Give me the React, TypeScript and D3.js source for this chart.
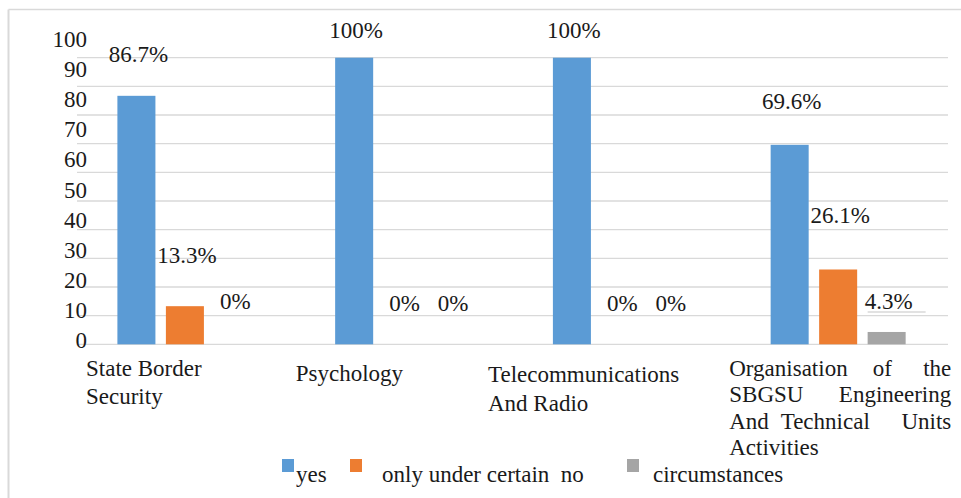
import React from "react";
import * as d3 from "d3";

const categories = [
  "State Border Security",
  "Psychology",
  "Telecommunications And Radio",
  "Organisation of the SBGSU Engineering And Technical Units Activities",
];
const categoryLines = [
  ["State Border", "Security"],
  ["Psychology"],
  ["Telecommunications", "And Radio"],
  ["Organisation of the", "SBGSU Engineering", "And Technical Units", "Activities"],
];
const seriesKeys = ["yes", "only under certain circumstances", "no"];
const yesValues = [86.7, 100, 100, 69.6];
const conditionalValues = [13.3, 0, 0, 26.1];
const noValues = [0, 0, 0, 4.3];
const valueLabels = [
  ["86.7%", "13.3%", "0%"],
  ["100%", "0%", "0%"],
  ["100%", "0%", "0%"],
  ["69.6%", "26.1%", "4.3%"],
];
const yTicks = [0, 10, 20, 30, 40, 50, 60, 70, 80, 90, 100];
const legendLabels = ["yes", "only under certain  no", "circumstances"];

// layout / style
const W = 961;
const H = 498;
const colors = ["#5b9bd5", "#ed7d31", "#a5a5a5"];
const FS = 23;
const TEXT = "#1a1a1a";
const GRID = "#d9d9d9";
const TS = {
  fontFamily: '"Liberation Serif"',
  fontSize: FS,
};
const labelNudge = [
  [2, -7, 1],
  [16, 3, 3],
  [16, 3, 3],
  [0, -10, 13],
];
const catDx = [9, 1, -24.5, -1];
const catBase = [376, 380.7, 381.7, 376];
const catGap = [27.5, 27, 29, 26.3];
const justifyWidth = 222;
const middleWordCenter = [153, 0, 96, 0];

function JustifiedLines({ x, y0, gap, lines, width }) {
  return (
    <g>
      {lines.map((ln, li) => {
        const words = ln.split(" ");
        const yy = y0 + li * gap;
        if (li === lines.length - 1 || words.length < 2) {
          return (
            <text key={li} x={x} y={yy} style={TS} fill={TEXT}>
              {ln}
            </text>
          );
        }
        return (
          <g key={li}>
            {words.map((w, wi) => {
              const anchor =
                wi === 0 ? "start" : wi === words.length - 1 ? "end" : "middle";
              const wx =
                wi === 0 ? x : wi === words.length - 1 ? x + width : x + middleWordCenter[li];
              return (
                <text key={wi} x={wx} y={yy} textAnchor={anchor} style={TS} fill={TEXT}>
                  {w}
                </text>
              );
            })}
          </g>
        );
      })}
    </g>
  );
}

export default function App() {
  const x0 = d3.scaleBand().domain(categories).range([77, 948]);
  const x1 = d3
    .scaleBand()
    .domain(seriesKeys)
    .range([40.4, 175.4])
    .paddingInner(0.216);
  const y = d3.scaleLinear().domain([0, 100]).range([344.3, 57.7]);
  const yLab = d3.scaleLinear().domain([0, 100]).range([348, 47]);
  const seriesValues = [yesValues, conditionalValues, noValues];

  return (
    <svg
      width={W}
      height={H}
      style={{ position: "absolute", left: 0, top: 0, background: "#fff" }}
    >
      <rect x={0} y={0} width={W} height={H} fill="#fff" />
      <line x1={8.5} x2={W} y1={9.5} y2={9.5} stroke={GRID} strokeWidth={1.5} />
      <line x1={8.5} x2={8.5} y1={9.5} y2={H} stroke={GRID} strokeWidth={2} />

      {yTicks.map((t) => (
        <line
          key={"g" + t}
          x1={77}
          x2={948}
          y1={y(t)}
          y2={y(t)}
          stroke={GRID}
          strokeWidth={1.3}
        />
      ))}
      {yTicks.map((t) => (
        <text key={"t" + t} x={87} y={yLab(t)} textAnchor="end" style={TS} fill={TEXT}>
          {t}
        </text>
      ))}

      {categories.map((c, i) =>
        seriesKeys.map((k, j) => {
          const v = seriesValues[j][i];
          return (
            <rect
              key={c + k}
              x={(x0(c) as number) + (x1(k) as number)}
              y={y(v)}
              width={x1.bandwidth()}
              height={y(0) - y(v)}
              fill={colors[j]}
            />
          );
        })
      )}

      {categories.map((c, i) =>
        seriesKeys.map((k, j) => {
          const v = seriesValues[j][i];
          const cx = (x0(c) as number) + (x1(k) as number) + x1.bandwidth() / 2 + 2;
          return (
            <text
              key={"v" + c + k}
              x={cx}
              y={y(v) - 36 + labelNudge[i][j]}
              textAnchor="middle"
              style={TS}
              fill={TEXT}
            >
              {valueLabels[i][j]}
            </text>
          );
        })
      )}
      {(() => {
        const c = categories[3];
        const bx = (x0(c) as number) + (x1(seriesKeys[2]) as number);
        const ly = y(noValues[3]) - 36 + labelNudge[3][2] + 3;
        return (
          <line x1={bx} x2={bx + 58} y1={ly} y2={ly} stroke={GRID} strokeWidth={1.3} />
        );
      })()}

      {categories.map((c, i) =>
        i === 3 ? (
          <JustifiedLines
            key={c}
            x={(x0(c) as number) + catDx[i]}
            y0={catBase[i]}
            gap={catGap[i]}
            lines={categoryLines[i]}
            width={justifyWidth}
          />
        ) : (
          <g key={c}>
            {categoryLines[i].map((ln, li) => (
              <text
                key={li}
                x={(x0(c) as number) + catDx[i]}
                y={catBase[i] + li * catGap[i]}
                style={TS}
                fill={TEXT}
              >
                {ln}
              </text>
            ))}
          </g>
        )
      )}

      {legendLabels.map((l, i) => {
        const lx = [282, 350, 627][i];
        const tx = [296, 382, 653][i];
        return (
          <g key={l}>
            <rect x={lx} y={459} width={12} height={13} fill={colors[i]} />
            <text x={tx} y={482} style={{ ...TS, whiteSpace: "pre" }} fill={TEXT}>
              {l}
            </text>
          </g>
        );
      })}
    </svg>
  );
}
